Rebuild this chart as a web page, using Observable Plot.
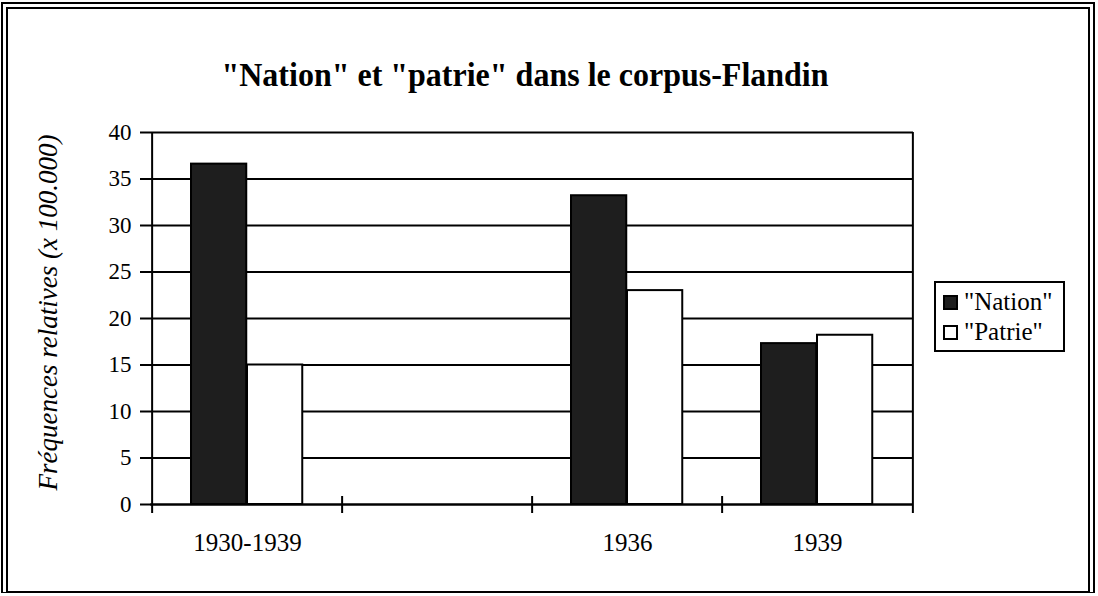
<!DOCTYPE html>
<html>
<head>
<meta charset="utf-8">
<script src="https://cdn.jsdelivr.net/npm/d3@7"></script>
<script src="https://cdn.jsdelivr.net/npm/@observablehq/plot@0.6"></script>
<style>
  html, body { margin: 0; padding: 0; background: #fff; }
  #wrap { position: relative; width: 1098px; height: 596px; overflow: hidden; font-family: "Liberation Serif", "Times New Roman", serif; }
  #border { position: absolute; left: 1px; top: 2px; width: 1094px; height: 591px; box-sizing: border-box;
            border-top: 7px double #000; border-left: 7px double #000; border-right: 7px double #000; border-bottom: 2px solid #000; }
  #title { position: absolute; left: 0; top: 54px; width: 1050px; text-align: center; font-family: "Liberation Serif", serif; font-weight: bold; font-size: 32px; line-height: 40px; color: #000; transform: scaleY(1.08); }
  #plot { position: absolute; left: 0; top: 0; }
  #legend { position: absolute; left: 934px; top: 281px; width: 131px; height: 71px; box-sizing: border-box; border: 2px solid #000; background: #fff; padding: 4px 0 0 7px; font-family: "Liberation Serif", serif; }
  .item { display: flex; align-items: center; height: 30px; font-size: 25px; color: #000; }
  .sw { width: 11px; height: 11px; border: 2px solid #000; margin-right: 6px; }
</style>
</head>
<body>
<div id="wrap">
  <div id="border"></div>
  <div id="plot"></div>
  <div id="title"></div>
  <div id="legend"></div>
</div>
<script>
// ---- data ----
const title = '"Nation" et "patrie" dans le corpus-Flandin';
const yLabel = "Fréquences relatives (x 100.000)";
const categories = ["1930-1939", "", "1936", "1939"];   // x slots (one slot empty)
const years = ["1930-1939", "1936", "1939"];
const nation = [36.6, 33.2, 17.3];
const patrie = [15.0, 23.0, 18.2];
const series = ['"Nation"', '"Patrie"'];
const yTicks = [0, 5, 10, 15, 20, 25, 30, 35, 40];

// ---- styles ----
const nationFill = "#1e1e1e";
const patrieFill = "#ffffff";
const W = 1098, H = 596;
const mL = 150, mR = 185, mT = 132, mB = 92;
const bw = (W - mL - mR) / categories.length;   // band width
const barW = 56, firstInset = 39;
const plotH = H - mT - mB;

const nationData = years.map((y, i) => ({year: y, value: nation[i]}));
const patrieData = years.map((y, i) => ({year: y, value: patrie[i]}));

const chart = Plot.plot({
  width: W,
  height: H,
  marginLeft: mL,
  marginRight: mR,
  marginTop: mT,
  marginBottom: mB,
  style: {fontFamily: '"Liberation Serif", "Times New Roman", serif', color: "#000", background: "transparent"},
  x: {type: "band", domain: categories, padding: 0},
  y: {domain: [0, 40], ticks: yTicks},
  marks: [
    Plot.ruleY(yTicks.filter(d => d > 0), {stroke: "#000", strokeWidth: 2}),
    Plot.barY(nationData, {x: "year", y: "value", fill: nationFill, stroke: "#000", strokeWidth: 2,
      insetLeft: firstInset, insetRight: bw - firstInset - barW}),
    Plot.barY(patrieData, {x: "year", y: "value", fill: patrieFill, stroke: "#000", strokeWidth: 2,
      insetLeft: firstInset + barW, insetRight: bw - firstInset - 2 * barW}),
    Plot.ruleY([0], {stroke: "#000", strokeWidth: 2.5}),
    // left axis line and right frame edge
    Plot.ruleX([categories[0]], {dx: -bw / 2, stroke: "#000", strokeWidth: 2, insetBottom: -9}),
    Plot.ruleX([categories[categories.length - 1]], {dx: bw / 2, stroke: "#000", strokeWidth: 2, insetBottom: -9}),
    // category boundary ticks
    Plot.ruleX(categories.slice(1), {dx: -bw / 2, stroke: "#000", strokeWidth: 2, insetTop: plotH - 8, insetBottom: -9}),
    Plot.axisY({ticks: yTicks, tickSize: 10, tickPadding: 9, fontSize: 23, strokeWidth: 2, label: null}),
    Plot.axisX({tickSize: 0, tickPadding: 29, fontSize: 25, label: null}),
    Plot.text([yLabel], {x: null, y: null, text: d => d, frameAnchor: "left", textAnchor: "middle", rotate: -90, dx: -102, dy: -6,
      fontSize: 27, fontStyle: "italic", fill: "#000"})
  ]
});
document.getElementById("plot").appendChild(chart);

document.getElementById("title").textContent = title;

const legend = document.getElementById("legend");
[[series[0], nationFill], [series[1], patrieFill]].forEach(([name, fill]) => {
  const item = document.createElement("div");
  item.className = "item";
  const sw = document.createElement("div");
  sw.className = "sw";
  sw.style.background = fill;
  const t = document.createElement("span");
  t.textContent = name;
  item.appendChild(sw);
  item.appendChild(t);
  legend.appendChild(item);
});
</script>
</body>
</html>
